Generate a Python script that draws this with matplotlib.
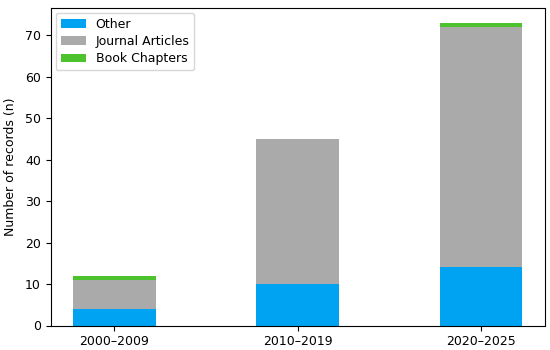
import numpy as np
import matplotlib
matplotlib.use('Agg')
import matplotlib.pyplot as plt

plt.rcParams['font.size'] = 9

periods = ["2000–2009", "2010–2019", "2020–2025"]
other = [4, 10, 14]
journal = [7, 35, 58]
book = [1, 0, 1]

x = np.arange(len(periods))
w = 0.45

fig, ax = plt.subplots(figsize=(5.5, 3.5), dpi=100)
ax.bar(x, other, w, color="#00a2f2", label="Other")
ax.bar(x, journal, w, bottom=other, color="#aaaaaa", label="Journal Articles")
base = np.array(other) + np.array(journal)
ax.bar(x, book, w, bottom=base, color="#4cc22c", label="Book Chapters")

ax.set_xticks(x)
ax.set_xticklabels(periods)
ax.set_ylabel("Number of records (n)", labelpad=6)
ax.legend(loc="upper left", borderaxespad=0.4, labelspacing=0.35)

fig.subplots_adjust(left=0.092, right=0.99, top=0.978, bottom=0.07)
fig.savefig("out.png")
